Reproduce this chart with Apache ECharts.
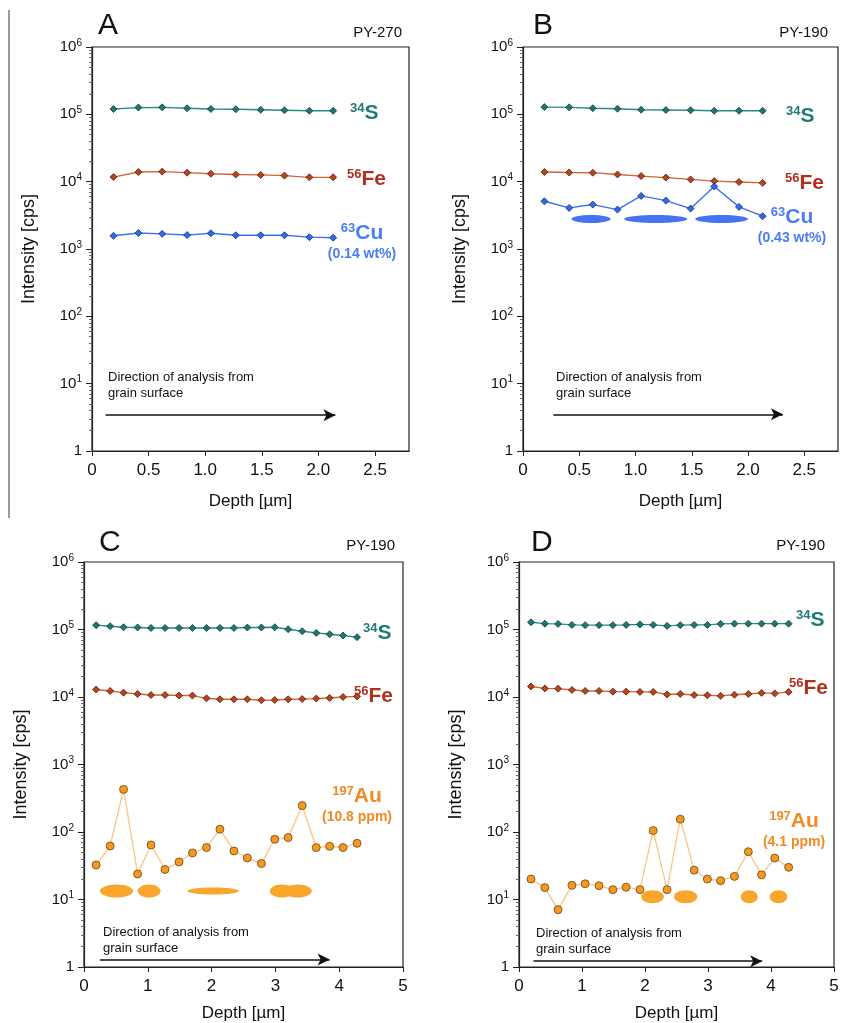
<!DOCTYPE html>
<html>
<head>
<meta charset="utf-8">
<script src="https://cdn.jsdelivr.net/npm/echarts@6/dist/echarts.min.js"></script>
<style>
  html, body { margin: 0; padding: 0; background: #fff; }
  #chart { width: 842px; height: 1023px; }
</style>
</head>
<body>
<div id="chart"></div>
<script>
// depth of each sputter step [µm]
const depthAB = [0.19, 0.41, 0.62, 0.84, 1.05, 1.27, 1.49, 1.70, 1.92, 2.13];
const depthCD = [0.19, 0.41, 0.62, 0.84, 1.05, 1.27, 1.49, 1.70, 1.92, 2.13,
                 2.35, 2.56, 2.78, 2.99, 3.20, 3.42, 3.64, 3.85, 4.06, 4.28];

// panel A (PY-270)
const sA  = [120000, 126000, 127000, 123000, 120000, 119000, 117000, 115000, 113000, 113000];
const feA = [11700, 13900, 14100, 13600, 13100, 12800, 12600, 12300, 11600, 11600];
const cuA = [1570, 1730, 1680, 1610, 1710, 1600, 1600, 1600, 1500, 1470];

// panel B (PY-190)
const sB  = [128000, 127000, 123000, 121000, 117000, 116000, 115000, 113000, 113000, 113000];
const feB = [13900, 13700, 13600, 12800, 12100, 11500, 10800, 10200, 9900, 9600];
const cuB = [5110, 4080, 4570, 3850, 6140, 5230, 3980, 8500, 4220, 3070];

// panel C (PY-190)
const sC  = [116000, 112000, 108000, 107000, 105500, 105500, 105500, 105500, 105500, 105500,
             105500, 107000, 107000, 108000, 101000, 94400, 89000, 85000, 81500, 77000];
const feC = [12900, 12300, 11600, 11100, 10700, 10700, 10500, 10500, 9560, 9250,
             9250, 9250, 8940, 9030, 9250, 9340, 9470, 9670, 10000, 10200];
const auC = [32.5, 62, 428, 23.9, 64.3, 27.8, 36, 48.9, 58.8, 110,
             52.4, 41.2, 34.1, 78, 82.6, 246, 58.8, 61.4, 58.8, 68];

// panel D (PY-190)
const sD  = [128000, 122000, 121000, 117000, 116000, 116000, 116000, 117000, 119000, 117000,
             113000, 116000, 117000, 117000, 121000, 122000, 122000, 122000, 122000, 122000];
const feD = [14300, 13400, 13300, 12700, 12300, 12300, 12000, 12000, 11900, 11900,
             10900, 11100, 10700, 10600, 10400, 10800, 11100, 11500, 11300, 11900];
const auD = [20.1, 15, 7.07, 16.2, 17.1, 16, 14, 15.2, 14, 105,
             14, 155, 27.2, 20.1, 19, 22, 51, 23.2, 41.1, 30];

// inclusions: [depth from, depth to, intensity low, intensity high]
const incB = [[0.43, 0.78, 2440, 3210], [0.90, 1.46, 2440, 3210], [1.53, 2.00, 2440, 3210]];
const incC = [[0.25, 0.77, 10.7, 16.7], [0.84, 1.20, 10.7, 16.7], [1.62, 2.43, 11.9, 15.1],
              [2.91, 3.29, 10.7, 16.7], [3.13, 3.57, 10.7, 16.7]];
const incD = [[1.94, 2.30, 8.8, 13.7], [2.46, 2.83, 8.8, 13.7], [3.52, 3.79, 8.8, 13.7], [3.98, 4.26, 8.8, 13.7]];

// direction arrows: [depth start, depth end, intensity]
const arrowA = [0.12, 2.15, 3.4];
const arrowB = [0.27, 2.31, 3.5];
const arrowC = [0.25, 3.85, 1.29];
const arrowD = [0.23, 3.86, 1.22];

const FONT = 'Liberation Sans, Arial, sans-serif';
const C_S = '#1e7b73', C_FE = '#b0301f', C_CU = '#4a7cf5', C_AU = '#f28a22';

const chart = echarts.init(document.getElementById('chart'));

const pairs = (xs, ys) => xs.map((x, i) => [x, ys[i]]);

function lineSeries(idx, xs, ys, lineColor, dotColor, edge, symbol, size) {
  return {
    type: 'line', xAxisIndex: idx, yAxisIndex: idx,
    data: pairs(xs, ys),
    symbol: symbol, symbolSize: size,
    lineStyle: { color: lineColor, width: 1.4 },
    itemStyle: { color: dotColor, borderColor: edge, borderWidth: 0.8 },
    z: 3
  };
}

function incSeries(idx, data, color) {
  return {
    type: 'custom', xAxisIndex: idx, yAxisIndex: idx, data: data, silent: true, z: 1,
    encode: { x: [0, 1], y: [2, 3] },
    renderItem(params, api) {
      const a = api.coord([api.value(0), api.value(3)]);
      const b = api.coord([api.value(1), api.value(2)]);
      return {
        type: 'ellipse',
        shape: { cx: (a[0] + b[0]) / 2, cy: (a[1] + b[1]) / 2,
                 rx: Math.abs(b[0] - a[0]) / 2, ry: Math.abs(b[1] - a[1]) / 2 },
        style: { fill: color }
      };
    }
  };
}

function arrowLine(arr) {
  return {
    silent: true, symbol: ['none', 'arrow'], symbolSize: [9, 12],
    label: { show: false },
    lineStyle: { color: '#111', width: 1.6, type: 'solid' },
    data: [[{ coord: [arr[0], arr[2]] }, { coord: [arr[1], arr[2]] }]]
  };
}

const grids = [
  { left: 92, top: 47, width: 317, height: 404 },
  { left: 523, top: 47, width: 315, height: 404 },
  { left: 84, top: 562, width: 319, height: 406 },
  { left: 519, top: 562, width: 315, height: 408 }
].map(g => Object.assign(g, { show: true, borderColor: '#222', borderWidth: 1.2 }));

function xAxis(idx, max, interval, gap) {
  return {
    type: 'value', gridIndex: idx, min: 0, max: max, interval: interval,
    axisLine: { show: true, lineStyle: { color: '#222', width: 1.2 } },
    axisTick: { show: true, length: 5, lineStyle: { color: '#222' } },
    splitLine: { show: false },
    axisLabel: {
      fontSize: 17, color: '#111', fontFamily: FONT, margin: 11, showMaxLabel: max % interval === 0,
      formatter: v => (v === 0 ? '0' : (interval < 1 ? v.toFixed(1) : String(v)))
    },
    name: 'Depth [µm]', nameLocation: 'middle', nameGap: gap,
    nameTextStyle: { fontSize: 17, color: '#111', fontFamily: FONT }
  };
}

function yAxis(idx) {
  return {
    type: 'log', gridIndex: idx, min: 1, max: 1e6, logBase: 10, splitNumber: 6,
    axisLine: { show: true, lineStyle: { color: '#222', width: 1.2 } },
    axisTick: { show: true, length: 6, lineStyle: { color: '#222' } },
    minorTick: { show: true, splitNumber: 9, length: 3, lineStyle: { color: '#666' } },
    splitLine: { show: false },
    axisLabel: {
      margin: 10, color: '#111', fontFamily: FONT,
      formatter: v => {
        const e = Math.round(Math.log10(v));
        return e === 0 ? '{b|1}' : '{b|10}{s|' + e + '}';
      },
      rich: {
        b: { fontSize: 15, fontFamily: FONT, color: '#111' },
        s: { fontSize: 10, fontFamily: FONT, color: '#111', padding: [0, 0, 8, 0] }
      }
    },
    name: 'Intensity [cps]', nameLocation: 'middle', nameGap: 54,
    nameTextStyle: { fontSize: 18, color: '#111', fontFamily: FONT }
  };
}

function tag(x, y, sup, main, color, extra) {
  const rich = {
    s: { fontSize: 13, fontWeight: 'bold', fontFamily: FONT, fill: color, padding: [0, 0, 9, 0] },
    m: { fontSize: 21, fontWeight: 'bold', fontFamily: FONT, fill: color },
    n: { fontSize: 14, fontWeight: 'bold', fontFamily: FONT, fill: color, lineHeight: 20 }
  };
  let text = '{s|' + sup + '}{m|' + main + '}';
  if (extra) text += '\n{n|' + extra + '}';
  return {
    type: 'text', x: x, y: y, silent: true, z: 10,
    style: { text: text, rich: rich, fill: color, align: extra ? 'center' : 'left', verticalAlign: 'middle' }
  };
}

function plain(x, y, text, size, align, vAlign) {
  return {
    type: 'text', x: x, y: y, silent: true, z: 10,
    style: { text: text, fontSize: size, fontFamily: FONT, fill: '#111',
             align: align || 'left', verticalAlign: vAlign || 'middle', lineHeight: 16.5 }
  };
}

const series = [
  // A
  Object.assign(lineSeries(0, depthAB, sA, '#2a8a80', '#1f7770', '#0d3d38', 'diamond', 7), { markLine: arrowLine(arrowA) }),
  lineSeries(0, depthAB, feA, '#d2643c', '#b8441e', '#5a1a0a', 'diamond', 7),
  lineSeries(0, depthAB, cuA, '#3d6ff0', '#2f6aee', '#10306e', 'diamond', 7),
  // B
  incSeries(1, incB, '#4573f2'),
  Object.assign(lineSeries(1, depthAB, sB, '#2a8a80', '#1f7770', '#0d3d38', 'diamond', 7), { markLine: arrowLine(arrowB) }),
  lineSeries(1, depthAB, feB, '#d2643c', '#b8441e', '#5a1a0a', 'diamond', 7),
  lineSeries(1, depthAB, cuB, '#3d6ff0', '#2f6aee', '#10306e', 'diamond', 7),
  // C
  incSeries(2, incC, '#f8a62c'),
  Object.assign(lineSeries(2, depthCD, sC, '#2a8a80', '#1f7770', '#0d3d38', 'diamond', 7), { markLine: arrowLine(arrowC) }),
  lineSeries(2, depthCD, feC, '#d2643c', '#b8441e', '#5a1a0a', 'diamond', 7),
  lineSeries(2, depthCD, auC, '#f9c98c', '#f39a22', '#6e4210', 'circle', 8),
  // D
  incSeries(3, incD, '#f8a62c'),
  Object.assign(lineSeries(3, depthCD, sD, '#2a8a80', '#1f7770', '#0d3d38', 'diamond', 7), { markLine: arrowLine(arrowD) }),
  lineSeries(3, depthCD, feD, '#d2643c', '#b8441e', '#5a1a0a', 'diamond', 7),
  lineSeries(3, depthCD, auD, '#f9c98c', '#f39a22', '#6e4210', 'circle', 8)
];

const graphic = [
  { type: 'line', silent: true, shape: { x1: 9, y1: 10, x2: 9, y2: 518 }, style: { stroke: '#333', lineWidth: 1 } },
  plain(98, 26, 'A', 30), plain(402, 33, 'PY-270', 15, 'right'),
  plain(533, 26, 'B', 30), plain(828, 33, 'PY-190', 15, 'right'),
  plain(99, 543, 'C', 30), plain(395, 546, 'PY-190', 15, 'right'),
  plain(531, 543, 'D', 30), plain(825, 546, 'PY-190', 15, 'right'),
  plain(108, 369, 'Direction of analysis from\ngrain surface', 13, 'left', 'top'),
  plain(556, 369, 'Direction of analysis from\ngrain surface', 13, 'left', 'top'),
  plain(103, 924, 'Direction of analysis from\ngrain surface', 13, 'left', 'top'),
  plain(536, 925, 'Direction of analysis from\ngrain surface', 13, 'left', 'top'),
  tag(350, 113, '34', 'S', C_S), tag(347, 179, '56', 'Fe', C_FE), tag(362, 243, '63', 'Cu', C_CU, '(0.14 wt%)'),
  tag(786, 116, '34', 'S', C_S), tag(785, 183, '56', 'Fe', C_FE), tag(792, 227, '63', 'Cu', C_CU, '(0.43 wt%)'),
  tag(363, 633, '34', 'S', C_S), tag(354, 696, '56', 'Fe', C_FE), tag(357, 806, '197', 'Au', C_AU, '(10.8 ppm)'),
  tag(796, 620, '34', 'S', C_S), tag(789, 688, '56', 'Fe', C_FE), tag(794, 831, '197', 'Au', C_AU, '(4.1 ppm)')
];

chart.setOption({
  animation: false,
  backgroundColor: '#fff',
  textStyle: { fontFamily: FONT },
  grid: grids,
  xAxis: [xAxis(0, 2.8, 0.5, 42), xAxis(1, 2.8, 0.5, 42), xAxis(2, 5, 1, 38), xAxis(3, 5, 1, 38)],
  yAxis: [yAxis(0), yAxis(1), yAxis(2), yAxis(3)],
  series: series,
  graphic: graphic
});
</script>
</body>
</html>
